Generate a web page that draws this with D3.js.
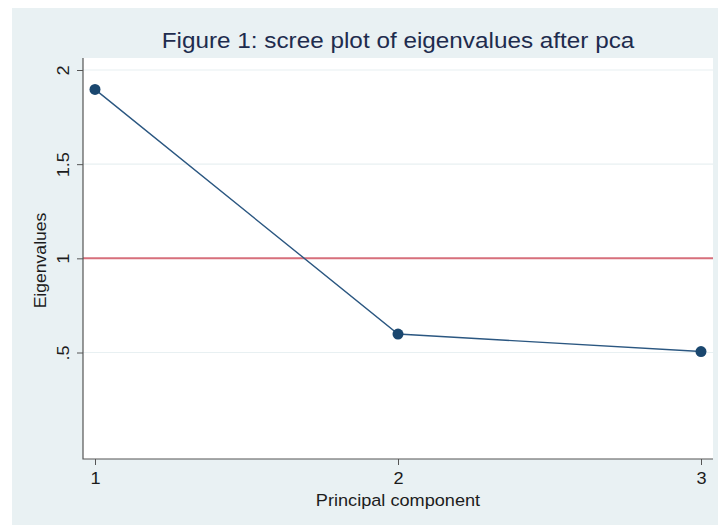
<!DOCTYPE html>
<html>
<head>
<meta charset="utf-8">
<script src="https://cdn.jsdelivr.net/npm/d3@7"></script>
<style>
  html, body { margin: 0; padding: 0; background: #ffffff; }
  svg { display: block; }
  text { font-family: "Liberation Sans", Arial, Helvetica, sans-serif; }
</style>
</head>
<body>
<svg id="chart" width="718" height="526"></svg>
<script>
// Scree plot data: eigenvalue of each principal component
const components = [1, 2, 3];
const eigenvalues = [1.897, 0.598, 0.505];
const yTicks = [0.5, 1, 1.5, 2];
const yTickLabels = [".5", "1", "1.5", "2"];
const xTicks = [1, 2, 3];
const referenceLine = 1; // Kaiser criterion

const titleText = "Figure 1: scree plot of eigenvalues after pca";
const xTitle = "Principal component";
const yTitle = "Eigenvalues";

const svg = d3.select("#chart");
const stretch = 1.1; // horizontal widening of the lettering

// graph region and plot region
const outer = { x0: 12, y0: 8, x1: 718, y1: 525 };
const plot = { x0: 83, y0: 58, x1: 713, y1: 459 };

svg.append("rect")
  .attr("x", outer.x0).attr("y", outer.y0)
  .attr("width", outer.x1 - outer.x0).attr("height", outer.y1 - outer.y0)
  .attr("fill", "#e9f1f3");

svg.append("rect")
  .attr("x", plot.x0).attr("y", plot.y0)
  .attr("width", plot.x1 - plot.x0).attr("height", plot.y1 - plot.y0)
  .attr("fill", "#ffffff");

const x = d3.scaleLinear().domain([1, 3]).range([95, 701]);
const y = d3.scaleLinear().domain([0.5, 2]).range([352.5, 70]);

// horizontal grid lines
svg.append("g").selectAll("line")
  .data(yTicks)
  .join("line")
  .attr("x1", plot.x0).attr("x2", plot.x1)
  .attr("y1", d => y(d)).attr("y2", d => y(d))
  .attr("stroke", "#e8f0f2")
  .attr("stroke-width", 1.2);

// reference line at eigenvalue = 1
svg.append("line")
  .attr("x1", plot.x0).attr("x2", plot.x1)
  .attr("y1", y(referenceLine)).attr("y2", y(referenceLine))
  .attr("stroke", "#d76f7b")
  .attr("stroke-width", 2);

// y axis
const yAxis = d3.axisLeft(y)
  .tickValues(yTicks)
  .tickFormat((d, i) => yTickLabels[i])
  .tickSize(6)
  .tickSizeOuter(0);
const gy = svg.append("g").attr("transform", `translate(${plot.x0},0)`).call(yAxis);
gy.select(".domain").remove();
gy.selectAll(".tick line").attr("stroke", "#555555").attr("stroke-width", 1);
gy.selectAll(".tick text").remove();
gy.selectAll(".tick").append("g")
  .attr("transform", "translate(-14,0) rotate(-90) scale(" + stretch + ",1)")
  .append("text")
  .attr("text-anchor", "middle")
  .attr("font-size", 16.5)
  .attr("fill", "#1c1c1c")
  .text((d, i) => yTickLabels[i]);

// x axis
const xAxis = d3.axisBottom(x)
  .tickValues(xTicks)
  .tickFormat(d3.format("d"))
  .tickSize(6)
  .tickSizeOuter(0);
const gx = svg.append("g").attr("transform", `translate(0,${plot.y1})`).call(xAxis);
gx.select(".domain").remove();
gx.selectAll(".tick line").attr("stroke", "#555555").attr("stroke-width", 1);
gx.selectAll(".tick text").remove();
gx.selectAll(".tick").append("g")
  .attr("transform", "translate(0,25) scale(" + stretch + ",1)")
  .append("text")
  .attr("text-anchor", "middle")
  .attr("font-size", 16.5)
  .attr("fill", "#1c1c1c")
  .text(d => d);

// axis lines along the left and bottom of the plot region
svg.append("path")
  .attr("d", `M${plot.x0},${plot.y0}V${plot.y1}H${plot.x1}`)
  .attr("fill", "none")
  .attr("stroke", "#555555")
  .attr("stroke-width", 1.2);

// connected eigenvalues
const pts = components.map((c, i) => ({ c, v: eigenvalues[i] }));
svg.append("path")
  .datum(pts)
  .attr("fill", "none")
  .attr("stroke", "#2b5781")
  .attr("stroke-width", 1.4)
  .attr("d", d3.line().x(d => x(d.c)).y(d => y(d.v)));

svg.append("g").selectAll("circle")
  .data(pts)
  .join("circle")
  .attr("cx", d => x(d.c))
  .attr("cy", d => y(d.v))
  .attr("r", 5.5)
  .attr("fill", "#1a476f");

// titles
const midX = (plot.x0 + plot.x1) / 2;
svg.append("g")
  .attr("transform", `translate(${midX},48) scale(1.13,1)`)
  .append("text")
  .attr("text-anchor", "middle")
  .attr("font-size", 21.5)
  .attr("fill", "#1e2c4e")
  .text(titleText);

svg.append("g")
  .attr("transform", `translate(${midX},506) scale(${stretch},1)`)
  .append("text")
  .attr("text-anchor", "middle")
  .attr("font-size", 16.5)
  .attr("fill", "#1c1c1c")
  .text(xTitle);

svg.append("g")
  .attr("transform", `translate(46,${(plot.y0 + plot.y1) / 2 + 2}) rotate(-90) scale(${stretch},1)`)
  .append("text")
  .attr("text-anchor", "middle")
  .attr("font-size", 16)
  .attr("fill", "#1c1c1c")
  .text(yTitle);
</script>
</body>
</html>
